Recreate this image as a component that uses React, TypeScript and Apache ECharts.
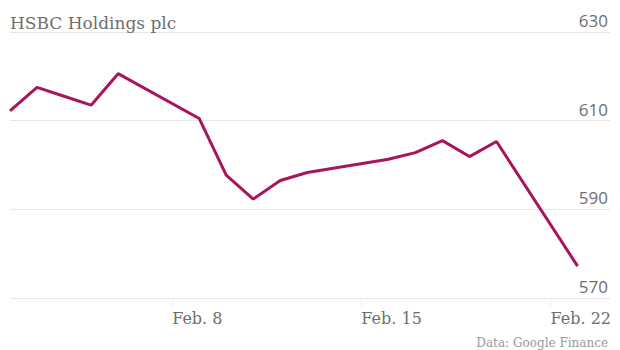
import React, { useEffect, useRef } from "react";
import * as echarts from "echarts";

const dates: string[] = [
  "2015-02-02", "2015-02-03", "2015-02-04", "2015-02-05", "2015-02-06",
  "2015-02-09", "2015-02-10", "2015-02-11", "2015-02-12", "2015-02-13",
  "2015-02-16", "2015-02-17", "2015-02-18", "2015-02-19", "2015-02-20",
  "2015-02-23",
];
const prices: number[] = [
  612.2, 617.5, 615.5, 613.5, 620.6,
  610.5, 597.7, 592.3, 596.5, 598.3,
  601.3, 602.8, 605.5, 601.9, 605.3,
  577.2,
];
const xTickDates: string[] = ["2015-02-08", "2015-02-15", "2015-02-22"];
const yTicks: number[] = [570, 590, 610, 630];
const titleText = "HSBC Holdings plc";
const sourceText = "Data: Google Finance";

const toTs = (d: string) => {
  const [y, m, day] = d.split("-").map(Number);
  return Date.UTC(y, m - 1, day);
};

export default function App() {
  const ref = useRef<HTMLDivElement>(null);
  useEffect(() => {
    if (!ref.current) return;
    const chart = echarts.init(ref.current, undefined, { renderer: "svg" });
    const xMin = toTs(dates[0]);
    const xMax = xMin + 22.2 * 86400000;
    const tickTs = xTickDates.map(toTs);
    chart.setOption({
      animation: false,
      title: [
        {
          text: titleText,
          left: 5,
          top: 9,
          textStyle: {
            fontFamily: "DejaVu Serif",
            fontSize: 17,
            fontWeight: "normal",
            color: "#6e6e6e",
          },
        },
        {
          text: sourceText,
          right: 7,
          top: 332,
          textStyle: {
            fontFamily: "DejaVu Serif",
            fontSize: 12,
            fontWeight: "normal",
            color: "#9a9a9a",
          },
        },
      ],
      grid: { left: 10, right: 10, top: 32, bottom: 52, containLabel: false },
      xAxis: {
        type: "value",
        min: xMin,
        max: xMax,
        axisLine: { show: false },
        splitLine: { show: false },
        axisTick: {
          show: true,
          length: 8,
          lineStyle: { color: "#ececec" },
          customValues: tickTs,
        },
        axisLabel: {
          customValues: tickTs,
          align: "left",
          margin: 12,
          fontFamily: "DejaVu Serif",
          fontSize: 16,
          color: "#6e6e6e",
          formatter: (v: number) => "Feb. " + new Date(v).getUTCDate(),
        },
      },
      yAxis: {
        type: "value",
        position: "right",
        min: yTicks[0],
        max: yTicks[yTicks.length - 1],
        interval: 20,
        axisLine: { show: false },
        axisTick: { show: false },
        splitLine: { lineStyle: { color: "#e6e6e6", width: 1 } },
        axisLabel: {
          inside: true,
          margin: 2,
          verticalAlign: "bottom",
          padding: [0, 0, 3, 0],
          fontFamily: "Open Sans",
          fontSize: 17,
          color: "#6e6e6e",
        },
      },
      series: [
        {
          type: "line",
          data: dates.map((d, i) => [toTs(d), prices[i]]),
          showSymbol: false,
          lineStyle: { color: "#a9155d", width: 3 },
          itemStyle: { color: "#a9155d" },
        },
      ],
    });
    return () => chart.dispose();
  }, []);
  return (
    <div
      ref={ref}
      style={{ position: "fixed", left: 0, top: 0, width: 620, height: 350, background: "#fff" }}
    />
  );
}
